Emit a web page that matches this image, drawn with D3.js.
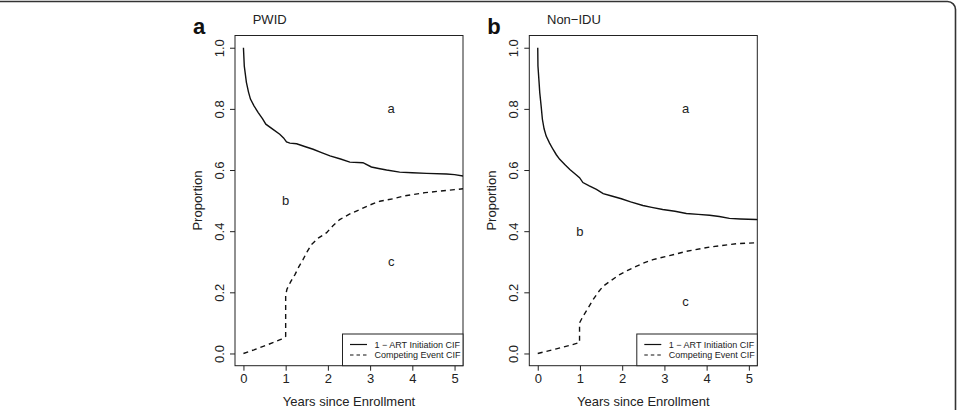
<!DOCTYPE html>
<html>
<head>
<meta charset="utf-8">
<script src="https://cdn.jsdelivr.net/npm/d3@7"></script>
<style>
  body { margin: 0; background: #fff; }
  svg { display: block; font-family: "Liberation Sans", Arial, sans-serif; }
  .tick text { font-size: 13px; fill: #222; }
  .tick line { stroke: #222; }
</style>
</head>
<body>
<div class="chart"></div>
<script>
const width = 957;
const height = 410;

const xTicks = [0, 1, 2, 3, 4, 5];
const yTicks = [0, 0.2, 0.4, 0.6, 0.8, 1.0];
const panelNames = ['PWID', 'Non\u2212IDU'];
const panelLetters = ['a', 'b'];
const legendLabels = ['1 \u2212 ART Initiation CIF', 'Competing Event CIF'];

// [years, proportion]
const pwidArt = [[0,1.0],[0.02,0.94],[0.07,0.887],[0.12,0.855],[0.166,0.832],[0.25,0.81],[0.35,0.788],
  [0.45,0.768],[0.53,0.75],[0.7,0.733],[0.86,0.717],[0.95,0.705],[1.02,0.692],[1.1,0.688],[1.26,0.686],
  [1.45,0.677],[1.65,0.668],[1.85,0.657],[2.05,0.646],[2.3,0.636],[2.52,0.626],[2.83,0.624],[3.03,0.61],
  [3.2,0.605],[3.39,0.6],[3.7,0.593],[4.0,0.591],[4.34,0.589],[4.81,0.587],[5.0,0.585],[5.3,0.578]];
const pwidComp = [[0,0],[0.25,0.012],[0.5,0.025],[0.75,0.038],[0.9,0.047],[1.0,0.056],[1.0,0.19],
  [1.03,0.21],[1.12,0.235],[1.22,0.258],[1.31,0.283],[1.41,0.307],[1.51,0.333],[1.61,0.356],[1.78,0.378],
  [1.97,0.395],[2.12,0.418],[2.28,0.438],[2.5,0.455],[2.76,0.471],[3.0,0.486],[3.23,0.498],[3.55,0.506],
  [3.8,0.515],[4.02,0.52],[4.3,0.526],[4.65,0.531],[5.0,0.536],[5.3,0.54]];
const nonIduArt = [[0,1.0],[0.005,0.94],[0.03,0.89],[0.047,0.854],[0.08,0.81],[0.11,0.766],[0.15,0.735],
  [0.2,0.711],[0.28,0.688],[0.36,0.668],[0.44,0.65],[0.52,0.635],[0.64,0.618],[0.76,0.602],[0.88,0.588],
  [0.99,0.575],[1.07,0.559],[1.22,0.548],[1.39,0.537],[1.55,0.523],[1.75,0.515],[1.98,0.506],[2.2,0.496],
  [2.49,0.484],[2.7,0.478],[2.96,0.471],[3.25,0.465],[3.52,0.458],[3.8,0.455],[4.07,0.452],[4.3,0.448],
  [4.54,0.442],[4.8,0.44],[5.17,0.438],[5.3,0.437]];
const nonIduComp = [[0,0],[0.44,0.015],[0.75,0.026],[0.99,0.036],[0.99,0.1],[1.07,0.121],[1.19,0.148],
  [1.31,0.176],[1.43,0.2],[1.55,0.22],[1.75,0.24],[1.94,0.258],[2.13,0.272],[2.33,0.285],[2.53,0.297],
  [2.73,0.307],[3.12,0.32],[3.52,0.334],[4.07,0.348],[4.7,0.359],[5.17,0.362],[5.3,0.363]];

// region labels a/b/c: [years, proportion]
const pwidRegions = [['a', 3.5, 0.80], ['b', 1.0, 0.50], ['c', 3.5, 0.30]];
const nonIduRegions = [['a', 3.5, 0.80], ['b', 1.0, 0.40], ['c', 3.5, 0.17]];

const svg = d3.select('.chart')
  .append('svg')
  .attr('width', width)
  .attr('height', height);

// outer frame
svg.append('rect')
  .attr('x', -20)
  .attr('y', 1.5)
  .attr('width', 975.5)
  .attr('height', 500)
  .attr('rx', 8)
  .attr('fill', 'none')
  .attr('stroke', '#333')
  .attr('stroke-width', 1.6);

drawPanel(0, 235, pwidArt, pwidComp, pwidRegions);
drawPanel(1, 529.3, nonIduArt, nonIduComp, nonIduRegions);

function drawPanel(i, left, art, comp, regions) {
  const boxW = 228;
  const top = 35.5;
  const bottom = 365.7;
  const g = svg.append('g');

  const xScale = d3.scaleLinear().domain([-0.2, 5.2]).range([left, left + boxW]);
  const yScale = d3.scaleLinear().domain([-0.04, 1.04]).range([bottom, top]);

  const clipId = 'clip' + i;
  g.append('clipPath').attr('id', clipId)
    .append('rect')
    .attr('x', left).attr('y', top)
    .attr('width', boxW).attr('height', bottom - top);

  const xAxis = d3.axisBottom(xScale).tickValues(xTicks).tickSize(5).tickPadding(3).tickFormat(d3.format('d'));
  const yAxis = d3.axisLeft(yScale).tickValues(yTicks).tickSize(5).tickFormat(d3.format('.1f'));

  const xg = g.append('g')
    .attr('transform', 'translate(0,' + bottom + ')')
    .call(xAxis);
  xg.select('.domain').remove();

  const yg = g.append('g')
    .attr('transform', 'translate(' + left + ',0)')
    .call(yAxis);
  yg.select('.domain').remove();
  yg.selectAll('.tick text')
    .attr('x', 0)
    .attr('dy', null)
    .attr('text-anchor', 'middle')
    .attr('dominant-baseline', 'central')
    .attr('transform', 'translate(-16,0) rotate(-90)');

  g.append('rect')
    .attr('x', left).attr('y', top)
    .attr('width', boxW).attr('height', bottom - top)
    .attr('fill', 'none')
    .attr('stroke', '#222')
    .attr('stroke-width', 1);

  const line = d3.line()
    .x(d => xScale(d[0]))
    .y(d => yScale(d[1]));

  g.append('path')
    .datum(art)
    .attr('clip-path', 'url(#' + clipId + ')')
    .attr('d', line)
    .attr('fill', 'none')
    .attr('stroke', '#111')
    .attr('stroke-width', 1.4);

  g.append('path')
    .datum(comp)
    .attr('clip-path', 'url(#' + clipId + ')')
    .attr('d', line)
    .attr('fill', 'none')
    .attr('stroke', '#111')
    .attr('stroke-width', 1.4)
    .attr('stroke-dasharray', '5,4');

  g.selectAll('.region')
    .data(regions)
    .enter()
    .append('text')
    .attr('x', d => xScale(d[1]))
    .attr('y', d => yScale(d[2]))
    .attr('text-anchor', 'middle')
    .attr('dominant-baseline', 'central')
    .attr('font-size', 13)
    .attr('fill', '#222')
    .text(d => d[0]);

  // titles
  g.append('text')
    .attr('x', left - 42)
    .attr('y', 34)
    .attr('font-size', 22)
    .attr('font-weight', 'bold')
    .attr('fill', '#111')
    .text(panelLetters[i]);

  g.append('text')
    .attr('x', left + 17.7)
    .attr('y', 24)
    .attr('font-size', 13)
    .attr('fill', '#222')
    .text(panelNames[i]);

  g.append('text')
    .attr('x', xScale(2.5))
    .attr('y', 406)
    .attr('text-anchor', 'middle')
    .attr('font-size', 13)
    .attr('fill', '#222')
    .text('Years since Enrollment');

  g.append('text')
    .attr('transform', 'translate(' + (left - 38) + ',' + yScale(0.5) + ') rotate(-90)')
    .attr('text-anchor', 'middle')
    .attr('dominant-baseline', 'central')
    .attr('font-size', 13)
    .attr('fill', '#222')
    .text('Proportion');

  // legend
  const legLeft = left + 107.5;
  const legTop = 334;
  const leg = g.append('g');
  leg.append('rect')
    .attr('x', legLeft).attr('y', legTop)
    .attr('width', left + boxW - legLeft).attr('height', bottom - legTop)
    .attr('fill', '#fff')
    .attr('stroke', '#222')
    .attr('stroke-width', 1);

  legendLabels.forEach((lab, k) => {
    const yy = legTop + 10.5 + k * 10.5;
    leg.append('line')
      .attr('x1', legLeft + 7.5).attr('x2', legLeft + 24.5)
      .attr('y1', yy).attr('y2', yy)
      .attr('stroke', '#111')
      .attr('stroke-width', 1.2)
      .attr('stroke-dasharray', k === 1 ? '3.5,3' : null);
    leg.append('text')
      .attr('x', legLeft + 32)
      .attr('y', yy)
      .attr('dominant-baseline', 'central')
      .attr('font-size', 9)
      .attr('fill', '#222')
      .text(lab);
  });
}
</script>
</body>
</html>
